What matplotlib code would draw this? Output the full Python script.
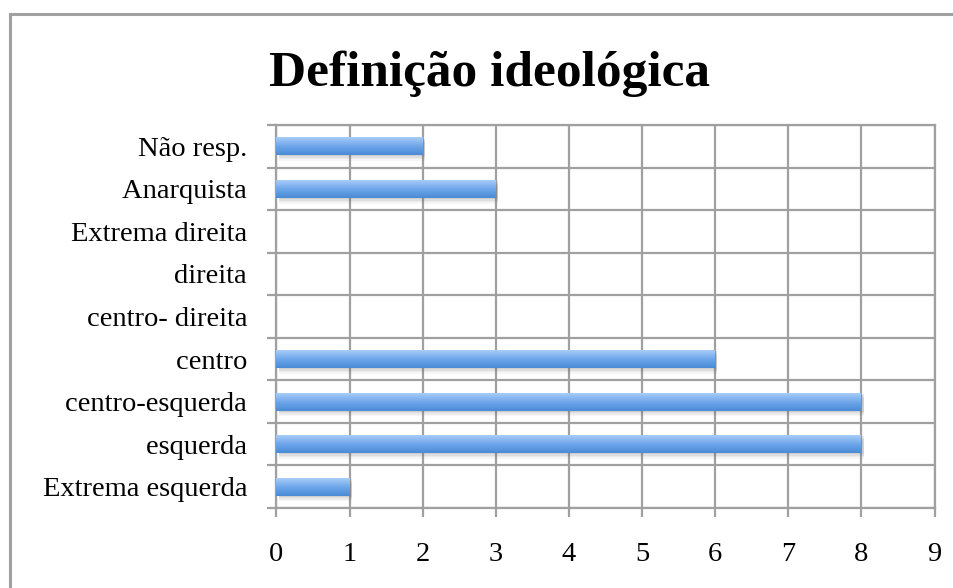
import numpy as np
import matplotlib
matplotlib.use('Agg')
import matplotlib.pyplot as plt
from matplotlib.patches import Rectangle
from matplotlib.colors import LinearSegmentedColormap

categories = ['Extrema esquerda', 'esquerda', 'centro-esquerda', 'centro',
              'centro- direita', 'direita', 'Extrema direita', 'Anarquista', 'Não resp.']
values = [1, 8, 8, 6, 0, 0, 0, 3, 2]
xticks = [0, 1, 2, 3, 4, 5, 6, 7, 8, 9]

grid_col = '#a0a0a0'
plt.rcParams['font.family'] = ['Liberation Serif', 'DejaVu Serif']

fig = plt.figure(figsize=(9.54, 5.88), dpi=100)
ax = fig.add_axes([0.2898, 0.1361, 0.6898, 0.6513])

y = np.arange(len(categories))
bar_h = 0.42

# soft shadow under the bars
for k, a in enumerate([0.12, 0.09, 0.07, 0.05]):
    off = 0.03 + k * 0.035
    ax.barh(y - off, values, height=bar_h, left=0.03, color='#606060',
            alpha=a, linewidth=0, zorder=2)

bars = ax.barh(y, values, height=bar_h, color='#6fa5e6', linewidth=0, zorder=3)

# vertical gradient fill for each bar
cmap = LinearSegmentedColormap.from_list('bl', ['#4a8bd6', '#6ea6ea', '#a9ccf8'])
grad = np.linspace(0, 1, 64).reshape(-1, 1)
for b in bars:
    if b.get_width() == 0:
        continue
    x0, y0 = b.get_x(), b.get_y()
    w, h = b.get_width(), b.get_height()
    im = ax.imshow(grad, cmap=cmap, aspect='auto', origin='lower',
                   extent=[x0, x0 + w, y0, y0 + h], zorder=4)
    im.set_clip_path(b)

ax.set_xlim(0, 9)
ax.set_ylim(-0.5, len(categories) - 0.5)
ax.set_xticks(xticks)
ax.set_xticklabels([str(t) for t in xticks], fontsize=20.5)
ax.set_yticks(y)
ax.set_yticklabels([c + ' ' for c in categories], fontsize=20.5)
ax.set_yticks(np.arange(-0.5, len(categories)), minor=True)

ax.tick_params(axis='y', which='major', length=0, pad=16)
ax.tick_params(axis='y', which='minor', length=6.5, width=1.6, color=grid_col)
ax.tick_params(axis='x', which='major', length=6.5, width=1.6, color=grid_col, pad=18)

ax.grid(True, axis='x', which='major', color=grid_col, linewidth=1.6, zorder=1)
ax.grid(True, axis='y', which='minor', color=grid_col, linewidth=1.6, zorder=1)
ax.set_axisbelow(True)
for s in ax.spines.values():
    s.set_color(grid_col)
    s.set_linewidth(1.6)
    s.set_zorder(1)

fig.text(0.513, 0.875, 'Definição ideológica', ha='center', va='center',
         fontsize=37, fontweight='bold')

# outer chart border
fig.patches.append(Rectangle((10 / 954, -0.05), 1.2, 1 - 13.5 / 588 + 0.05,
                             transform=fig.transFigure, fill=False,
                             edgecolor='#a0a0a0', linewidth=2.2))

fig.savefig('out.png', dpi=100)
